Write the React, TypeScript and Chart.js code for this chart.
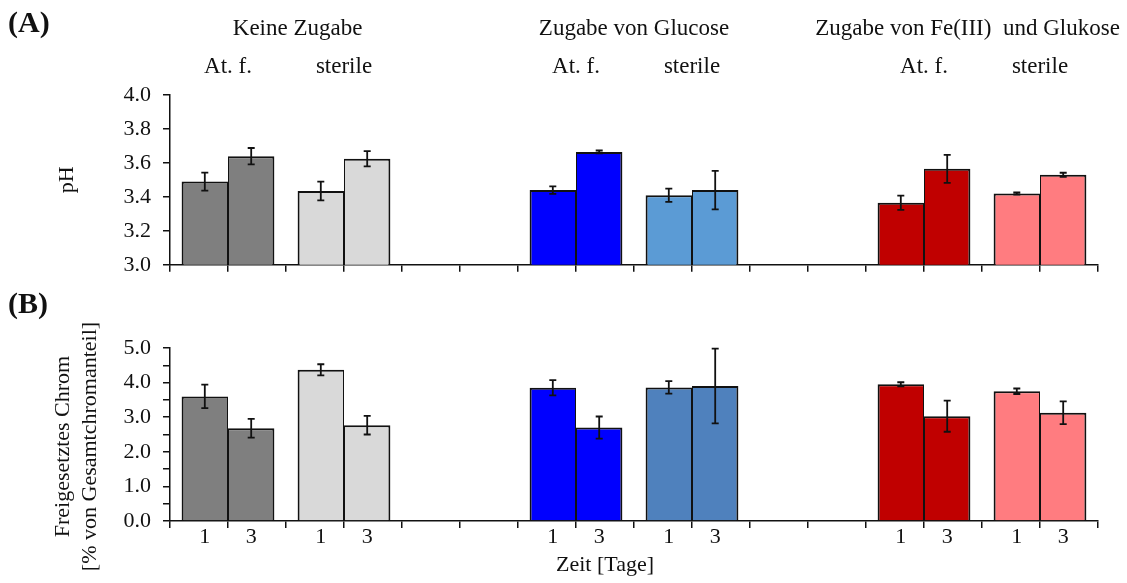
import React, { useEffect, useRef } from "react";
import { Chart, registerables } from "chart.js";

Chart.register(...registerables);

// ---------- data ----------
const groups = ["At. f.", "sterile", "", "At. f.", "sterile", "", "At. f.", "sterile"];
const headers = ["Keine Zugabe", "Zugabe von Glucose", "Zugabe von Fe(III)  und Glukose"];
const dayLabels = ["1", "3"];
const xTitle = "Zeit [Tage]";
const phTitle = "pH";
const crTitle = ["Freigesetztes Chrom", "[% von Gesamtchromanteil]"];

const phDay1 = [3.49, 3.435, null, 3.44, 3.41, null, 3.365, 3.42];
const phDay1Err = [0.053, 0.055, null, 0.022, 0.039, null, 0.042, 0.006];
const phDay3 = [3.64, 3.625, null, 3.665, 3.44, null, 3.565, 3.53];
const phDay3Err = [0.048, 0.045, null, 0.008, 0.113, null, 0.082, 0.012];

const crDay1 = [3.6, 4.37, null, 3.85, 3.86, null, 3.95, 3.75];
const crDay1Err = [0.34, 0.16, null, 0.22, 0.18, null, 0.06, 0.08];
const crDay3 = [2.68, 2.77, null, 2.7, 3.9, null, 3.03, 3.13];
const crDay3Err = [0.27, 0.27, null, 0.32, 1.08, null, 0.45, 0.33];

// ---------- layout / style ----------
const headerUnits = [2.2, 8, 13.75];
const xTitleUnit = 7.5;
const colorsA = ["#7f7f7f", "#d9d9d9", "#ffffff", "#0000ff", "#5b9bd5", "#ffffff", "#c00000", "#ff7c80"];
const colorsB = ["#7f7f7f", "#d9d9d9", "#ffffff", "#0000ff", "#4f81bd", "#ffffff", "#c00000", "#ff7c80"];
const FONT = "'Liberation Serif', 'Times New Roman', serif";
const INK = "#111111";
const W = 1127;

const errorBarPlugin = {
  id: "errorBars",
  afterDatasetsDraw(chart: any) {
    const { ctx } = chart;
    const y = chart.scales.y;
    ctx.save();
    ctx.strokeStyle = INK;
    ctx.lineWidth = 1.8;
    chart.data.datasets.forEach((ds: any, i: number) => {
      const meta = chart.getDatasetMeta(i);
      meta.data.forEach((bar: any, j: number) => {
        const v = ds.data[j];
        const e = ds.errors ? ds.errors[j] : null;
        if (v == null || e == null) return;
        const yt = y.getPixelForValue(v + e);
        const yb = y.getPixelForValue(v - e);
        const x = bar.x;
        ctx.beginPath();
        ctx.moveTo(x, yt);
        ctx.lineTo(x, yb);
        ctx.moveTo(x - 3.5, yt);
        ctx.lineTo(x + 3.5, yt);
        ctx.moveTo(x - 3.5, yb);
        ctx.lineTo(x + 3.5, yb);
        ctx.stroke();
      });
    });
    ctx.restore();
  },
};

const textPluginA = {
  id: "textA",
  afterDraw(chart: any) {
    const { ctx, chartArea } = chart;
    const xt = chart.scales.xt;
    const x = chart.scales.x;
    ctx.save();
    ctx.fillStyle = INK;
    ctx.textBaseline = "alphabetic";
    ctx.textAlign = "left";
    ctx.font = `bold 30px ${FONT}`;
    ctx.fillText("(A)", 8, 32);
    ctx.font = `23px ${FONT}`;
    ctx.textAlign = "center";
    headers.forEach((h, i) => ctx.fillText(h, xt.getPixelForValue(headerUnits[i]), chartArea.top - 60));
    groups.forEach((g, j) => {
      if (g) ctx.fillText(g, x.getPixelForValue(j), chartArea.top - 22);
    });
    ctx.restore();
  },
};

const textPluginB = {
  id: "textB",
  afterDraw(chart: any) {
    const { ctx, chartArea } = chart;
    const xt = chart.scales.xt;
    ctx.save();
    ctx.fillStyle = INK;
    ctx.textBaseline = "alphabetic";
    ctx.textAlign = "left";
    ctx.font = `bold 30px ${FONT}`;
    ctx.fillText("(B)", 8, 23);
    ctx.font = `22px ${FONT}`;
    ctx.textAlign = "center";
    chart.data.datasets.forEach((ds: any, i: number) => {
      const meta = chart.getDatasetMeta(i);
      meta.data.forEach((bar: any, j: number) => {
        if (ds.data[j] == null) return;
        ctx.fillText(dayLabels[i], bar.x, chartArea.bottom + 22);
      });
    });
    ctx.fillText(xTitle, xt.getPixelForValue(xTitleUnit), chartArea.bottom + 50);
    // rotated y-axis title (two lines)
    const cy = (chartArea.top + chartArea.bottom) / 2 + 12;
    ctx.translate(63, cy);
    ctx.rotate(-Math.PI / 2);
    ctx.textBaseline = "middle";
    crTitle.forEach((line, i) => ctx.fillText(line, 0, i * 27.5));
    ctx.restore();
  },
};

function buildConfig(p: any) {
  const ds = (label: string, data: any[], errors: any[], bw: any) => ({
    label,
    data,
    errors,
    backgroundColor: p.colors,
    borderColor: INK,
    borderWidth: bw,
    categoryPercentage: 0.8,
    barPercentage: 1,
    xAxisID: "x",
    yAxisID: "y",
  });
  return {
    type: "bar",
    data: {
      labels: groups,
      datasets: [
        ds("Tag 1", p.d1, p.e1, { top: 2, left: 2, right: 1, bottom: 0 }),
        ds("Tag 3", p.d3, p.e3, { top: 2, left: 1, right: 2, bottom: 0 }),
      ],
    },
    options: {
      responsive: false,
      animation: false,
      devicePixelRatio: 1,
      layout: { padding: { left: 0, right: 29, top: p.padTop, bottom: p.padBottom } },
      plugins: { legend: { display: false }, tooltip: { enabled: false } },
      scales: {
        x: { type: "category", display: false, offset: true },
        xt: {
          type: "linear",
          position: "bottom",
          offset: false,
          min: 0,
          max: 16,
          ticks: { display: false, stepSize: 1, autoSkip: false },
          grid: { offset: false, drawOnChartArea: false, drawTicks: true, tickLength: 7, color: INK, lineWidth: 1.5 },
          border: { display: true, color: INK, width: 1.5 },
          afterFit: (s: any) => {
            s.height = 10;
          },
        },
        y: {
          type: "linear",
          position: "left",
          min: p.min,
          max: p.max,
          ticks: {
            stepSize: p.step,
            autoSkip: false,
            color: INK,
            padding: 12,
            font: { family: FONT, size: 22 },
            callback: p.tickCb,
          },
          grid: { drawOnChartArea: false, drawTicks: true, tickLength: 7, color: INK, lineWidth: 1.5 },
          border: { display: true, color: INK, width: 1.5 },
          title: {
            display: !!p.title,
            text: p.title || "",
            color: INK,
            font: { family: FONT, size: 22, lineHeight: 1.25 },
            padding: { top: p.titlePad || 0, bottom: 0 },
          },
          afterFit: (s: any) => {
            s.width = 170;
          },
        },
      },
    },
    plugins: [errorBarPlugin, p.textPlugin],
  };
}

function Panel({ top, height, cfg }: { top: number; height: number; cfg: () => any }) {
  const ref = useRef<HTMLCanvasElement | null>(null);
  useEffect(() => {
    const chart = new Chart(ref.current as HTMLCanvasElement, cfg() as any);
    return () => chart.destroy();
  }, []);
  return (
    <canvas
      ref={ref}
      width={W}
      height={height}
      style={{ position: "absolute", left: 0, top, width: W, height, display: "block" }}
    />
  );
}

export default function App() {
  const cfgA = () =>
    buildConfig({
      d1: phDay1,
      e1: phDay1Err,
      d3: phDay3,
      e3: phDay3Err,
      colors: colorsA,
      min: 3,
      max: 4,
      step: 0.2,
      tickCb: (v: any) => Number(v).toFixed(1),
      title: phTitle,
      titlePad: 53,
      padTop: 95,
      padBottom: 11,
      textPlugin: textPluginA,
    });
  const cfgB = () =>
    buildConfig({
      d1: crDay1,
      e1: crDay1Err,
      d3: crDay3,
      e3: crDay3Err,
      colors: colorsB,
      min: 0,
      max: 5,
      step: 0.5,
      tickCb: (v: any) => (Math.abs(v - Math.round(v)) < 1e-6 ? Number(v).toFixed(1) : ""),
      title: null,
      padTop: 58,
      padBottom: 52,
      textPlugin: textPluginB,
    });
  return (
    <div style={{ position: "fixed", left: 0, top: 0, width: W, height: 583, background: "#fff", overflow: "hidden" }}>
      <Panel top={0} height={290} cfg={cfgA} />
      <Panel top={290} height={293} cfg={cfgB} />
    </div>
  );
}
